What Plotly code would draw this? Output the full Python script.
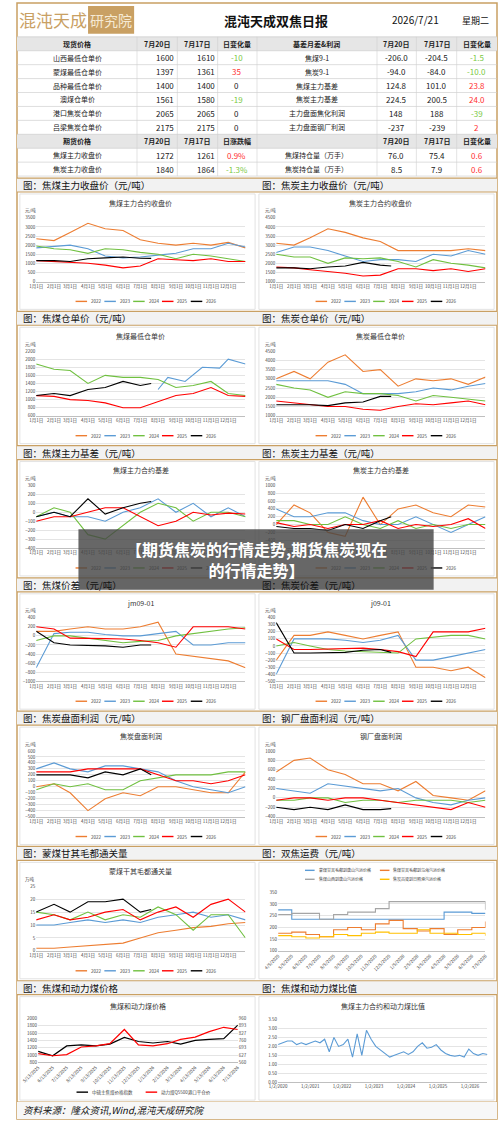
import plotly.graph_objects as go
import pandas as pd

W, H = 500, 1122
def X(p): return p / W
def Y(p): return 1 - p / H

FONT = "Noto Sans CJK SC"
GOLD = "#c9a063"
COLORS = {"2022": "#ed7d31", "2023": "#5b9bd5", "2024": "#70c040", "2025": "#ff0000", "2026": "#000000"}
YEARS = ["2022", "2023", "2024", "2025", "2026"]

# ---------------- table data ----------------
spot_names = ["山西最低仓单价", "蒙煤最低仓单价", "品种最低仓单价", "澳煤仓单价", "港口焦炭仓单价", "吕梁焦炭仓单价"]
spot_d1 = ["1600", "1397", "1400", "1561", "2065", "2175"]
spot_d2 = ["1610", "1361", "1400", "1580", "2065", "2175"]
spot_chg = ["-10", "35", "0", "-19", "0", "0"]
basis_names = ["焦煤9-1", "焦炭9-1", "焦煤主力基差", "焦炭主力基差", "主力盘面焦化利润", "主力盘面钢厂利润"]
basis_d1 = ["-206.0", "-94.0", "124.8", "224.5", "148", "-237"]
basis_d2 = ["-204.5", "-84.0", "101.0", "200.5", "188", "-239"]
basis_chg = ["-1.5", "-10.0", "23.8", "24.0", "-39", "2"]
fut_names = ["焦煤主力收盘价", "焦炭主力收盘价"]
fut_d1 = ["1272", "1840"]
fut_d2 = ["1261", "1864"]
fut_chg = ["0.9%", "-1.3%"]
oi_names = ["焦煤持仓量（万手）", "焦炭持仓量（万手）"]
oi_d1 = ["76.0", "8.5"]
oi_d2 = ["75.4", "7.9"]
oi_chg = ["0.6", "0.6"]

# ---------------- seasonal chart data ----------------
MONTH_DOY = [1, 32, 60, 91, 121, 152, 182, 213, 244, 274, 305, 335, 365]
DOY_2026 = [1, 32, 60, 91, 121, 152, 182, 201]
MONTH_LABELS = ["1月1日", "2月1日", "3月1日", "4月1日", "5月1日", "6月1日", "7月1日",
                "8月1日", "9月1日", "10月1日", "11月1日", "12月1日"]

jm_close_2022 = [2350, 2250, 2700, 3200, 2900, 2800, 2300, 2100, 2000, 2100, 2000, 2150, 1850]
jm_close_2023 = [1850, 1950, 2000, 1800, 1400, 1300, 1350, 1450, 1550, 1800, 1800, 2100, 1900]
jm_close_2024 = [1950, 1800, 1750, 1550, 1800, 1750, 1600, 1500, 1250, 1500, 1400, 1250, 1100]
jm_close_2025 = [1150, 1100, 1050, 1000, 900, 750, 850, 1250, 1200, 1150, 1250, 1100, 1100]
jm_close_2026 = [1150, 1150, 1100, 1250, 1300, 1350, 1280, 1270]

j_close_2022 = [3100, 3000, 3400, 3900, 3700, 3400, 3200, 2700, 2700, 2700, 2700, 2800, 2700]
j_close_2023 = [2600, 2900, 2900, 2700, 2400, 2100, 2200, 2200, 2100, 2500, 2400, 2700, 2500]
j_close_2024 = [2500, 2350, 2350, 2000, 2300, 2250, 2300, 2100, 1800, 2200, 2000, 1900, 1750]
j_close_2025 = [1800, 1750, 1650, 1550, 1450, 1300, 1350, 1700, 1700, 1600, 1700, 1550, 1700]
j_close_2026 = [1750, 1750, 1700, 1800, 1850, 2050, 1900, 1850]

jm_wr_2023 = [1250, 1550, 1450, 1800, 1780, 2000, 1880]
jm_wr_2023_doy = [213, 230, 260, 290, 320, 335, 365]
jm_wr_2024 = [1880, 1750, 1720, 1400, 1600, 1550, 1550, 1500, 1300, 1350, 1450, 1150, 1100]
jm_wr_2025 = [1100, 1080, 1000, 980, 920, 800, 800, 950, 1100, 1150, 1300, 1100, 1080]
jm_wr_2026 = [1100, 1150, 1100, 1250, 1300, 1450, 1350, 1400]

j_wr_2022 = [3000, 3400, 3000, 3900, 4300, 3400, 3500, 2600, 3000, 2900, 3000, 2700, 3100]
j_wr_2023 = [2900, 2900, 2900, 2900, 2700, 2200, 2200, 2200, 2300, 2500, 2400, 2600, 2750]
j_wr_2024 = [2700, 2500, 2400, 2000, 2300, 2200, 2200, 2100, 1800, 2100, 2000, 1900, 1800]
j_wr_2025 = [1800, 1700, 1600, 1500, 1500, 1350, 1300, 1500, 1650, 1600, 1700, 1800, 1600]
j_wr_2026 = [1600, 1600, 1600, 1550, 1700, 1750, 2050, 2050]

jm_basis_2023 = [-50, 0, -50, -50, -100, 0, 50, 150, 0, 100, -50, 50, -50]
jm_basis_2024 = [-50, 50, 0, -250, -300, -150, 0, 100, 50, -100, 0, 0, -50]
jm_basis_2025 = [-100, -50, -50, 0, 50, 50, -50, -150, -100, 0, -30, -10, -20]
jm_basis_2026 = [-50, 0, -50, 150, -20, 50, 100, 120]

j_basis_2022 = [0, 500, 300, -200, -300, 700, 0, 400, 500, 300, 200, 500, 450]
j_basis_2023 = [400, 200, 200, 300, 300, 100, 0, 0, 200, 0, -200, 0, 200]
j_basis_2024 = [100, 100, 0, 0, 200, 0, -100, 100, -100, 0, -100, 0, 0]
j_basis_2025 = [50, -50, 0, -100, 0, 0, 100, -100, 0, -50, 0, 150, -100]
j_basis_2026 = [-50, -100, -100, -150, 0, -100, 100, 200]

jm_spread_2022 = [100, 100, 150, 200, 150, 150, 200, 300, -400, -450, -500, -550, -700]
jm_spread_2023 = [-700, 50, 80, 80, 30, 0, 0, 50, 100, -200, -200, -150, -150]
jm_spread_2024 = [-100, 0, 0, -50, -100, -150, -120, -100, 0, 50, 100, 150, 180]
jm_spread_2025 = [200, 150, -50, -50, -60, -70, -100, -150, -250, 200, 200, 200, 150]
jm_spread_2026 = [100, -150, -200, -210, -220, -250, -200, -200]

j_spread_2022 = [-200, 150, 150, 200, 150, 100, 150, 200, -300, -300, -350, -300, -450]
j_spread_2023 = [-400, 100, 100, 100, 80, 50, 80, 150, -200, -200, -150, -100, -50]
j_spread_2024 = [0, 50, 0, -50, -70, -80, -80, -100, 100, 120, 150, 150, 100]
j_spread_2025 = [100, -50, -50, -40, -30, -30, -50, -80, -150, 200, 200, 200, 250]
j_spread_2026 = [330, -100, -100, -100, -90, -60, -50, -90]

coking_profit_2022 = [0, 50, -100, -400, -200, -100, -150, 0, 0, -50, -100, -100, 250]
coking_profit_2023 = [300, 400, 300, 250, 350, 350, 300, 250, 100, 0, -50, -100, 0]
coking_profit_2024 = [-50, 50, 0, 50, -50, -50, 100, 150, 200, 200, 200, 250, 250]
coking_profit_2025 = [250, 250, 250, 300, 300, 300, 300, 200, 100, 100, 50, 100, 200]
coking_profit_2026 = [200, 200, 200, 150, 250, 200, 300, 200]

steel_profit_2022 = [550, 800, 850, 600, 500, 300, 300, 150, 350, 50, 0, -50, 150]
steel_profit_2023 = [200, 150, 100, 300, 250, 200, 150, 200, 0, -100, -150, -50, 0]
steel_profit_2024 = [-50, -50, 0, 0, -100, -50, -50, -100, -50, -50, -50, -100, -50]
steel_profit_2025 = [-50, 0, 0, -50, 0, 0, -50, -100, -150, -200, -250, -100, -200]
steel_profit_2026 = [-200, -250, -200, -250, -150, -250, -250, -230]

gqmd_2022 = [1, 1, 1.5, 2, 2.5, 3, 5, 7, 8, 9, 9.5, 10.5, 11]
gqmd_2023 = [10, 10, 11, 12, 11, 12, 11, 13, 14, 15, 13, 14, 12]
gqmd_2024 = [15, 14, 12, 15, 12, 14, 13, 17, 14, 8, 14, 14, 5]
gqmd_2025 = [12, 14, 12, 13, 15, 16, 12, 15, 17, 13, 18, 20, 15]
gqmd_2026 = [15, 18, 15, 19, 19, 20, 15, 16]

# ---------------- freight ----------------
freight_dates = pd.date_range("2025-04-01", periods=16, freq="MS") + pd.Timedelta(days=4)
freight_labels = [f"{d.month}/5/{d.year}" for d in freight_dates]
freight_names = ["蒙煤甘其毛都到唐山汽运价格", "焦煤甘其毛都到乌海汽运价格", "焦煤山西到唐山汽运价格", "焦炭吕梁到日照港汽运价格"]
freight_blue = [275, 235, 235, 235, 235, 235, 235, 235, 235, 235, 235, 235, 265, 265, 260, 260]
freight_orange = [175, 180, 170, 160, 190, 200, 190, 215, 230, 195, 185, 195, 170, 190, 200, 225]
freight_gray = [255, 260, 260, 235, 255, 265, 265, 280, 310, 310, 310, 310, 310, 310, 310, 275]
freight_yellow = [165, 160, 155, 160, 170, 165, 175, 180, 175, 175, 190, 175, 175, 170, 175, 165]

# ---------------- coking vs thermal ----------------
ct_dates = pd.date_range("2025-05-01", periods=15, freq="MS") + pd.Timedelta(days=12)
ct_labels = [f"{d.month}/13/{d.year}" for d in ct_dates]
ct_names = ["中硫主焦煤价格指数", "动力煤Q5500港口平仓价"]
coking_idx = [1100, 980, 1250, 1280, 1250, 1300, 1480, 1370, 1330, 1370, 1300, 1400, 1430, 1450, 1820]
thermal_px = [640, 620, 630, 700, 710, 730, 860, 720, 710, 730, 770, 790, 840, 880, 860]

ratio_vals = [2.1, 2.2, 2.3, 2.3, 2.1, 2.2, 2.1, 2.2, 2.3, 2.2, 2.4, 1.7, 2.5, 2.0, 2.1, 2.4, 1.4,
              2.7, 1.5, 2.9, 2.4, 2.0, 1.8, 1.6, 1.4, 1.5, 1.6, 1.7, 1.55, 1.7, 2.0, 2.2, 1.9, 1.95,
              2.1, 1.8, 1.6, 1.5, 1.45, 1.5, 1.4, 1.85, 1.6, 1.5, 1.6, 1.55]
ratio_dates = pd.date_range("2020-01-02", "2026-07-21", periods=len(ratio_vals))
ratio_ticks = ["1/2/2020", "1/2/2021", "1/2/2022", "1/2/2023", "1/2/2024", "1/2/2025", "1/2/2026"]

fig = go.Figure()
shapes, anns = [], []

def txt(x, y, s, size=7, color="#222", bold=False, anchor="center", font=FONT, **kw):
    anns.append(dict(x=X(x), y=Y(y), xref="paper", yref="paper", text=f"<b>{s}</b>" if bold else s,
                     showarrow=False, xanchor=anchor, yanchor="middle",
                     font=dict(size=size, color=color, family=font), **kw))

def rect(x0, y0, x1, y1, fill=None, line=None, lw=1, layer="below"):
    shapes.append(dict(type="rect", xref="paper", yref="paper", x0=X(x0), x1=X(x1), y0=Y(y1), y1=Y(y0),
                       fillcolor=fill or "rgba(0,0,0,0)", line=dict(color=line or "rgba(0,0,0,0)", width=lw),
                       layer=layer))

def hline(x0, x1, y, color="#bbb", w=0.6):
    shapes.append(dict(type="line", xref="paper", yref="paper", x0=X(x0), x1=X(x1), y0=Y(y), y1=Y(y),
                       line=dict(color=color, width=w), layer="below"))

def vline(x, y0, y1, color="#bbb", w=0.6):
    shapes.append(dict(type="line", xref="paper", yref="paper", x0=X(x), x1=X(x), y0=Y(y0), y1=Y(y1),
                       line=dict(color=color, width=w), layer="below"))

def legend_items(x, y, items, swatch=12, gap=6, size=4.5):
    cx = x
    for lab, col, tw in items:
        hline(cx, cx + swatch, y, color=col, w=1.4)
        txt(cx + swatch + 2, y, lab, size=size, color="#444", anchor="left")
        cx += swatch + 2 + tw + gap

# ---- header ----
rect(0, 0, 500, 1122, line=GOLD, lw=1.5)
txt(37, 17, "混沌天成", size=17, color=GOLD)
rect(74, 3, 122, 31, fill=GOLD)
txt(98, 17, "研究院", size=14, color="#f6ead4")
txt(270, 18, "混沌天成双焦日报", size=13, color="#111", bold=True)
txt(415, 17, "2026/7/21", size=10, color="#111")
txt(478, 18, "星期二", size=9, color="#111")

# ---- table ----
row_tops = [34 + 14 * i for i in range(10)]
rect(0, 34, 500, 48, fill="#e6e6e6")
rect(0, 132, 500, 146, fill="#e6e6e6")
for t in row_tops + [174]:
    hline(0, 500, t, color="#c8c8c8")
for xv in [125, 167, 209, 250, 375, 416, 458]:
    vline(xv, 34, 174, color="#d0d0d0")
colx = [63, 146, 188, 229, 312, 395, 437, 479]
def chgcolor(s):
    if s.startswith("-"):
        return "#7ac943"
    if s in ("0",):
        return "#222"
    return "#ff3030"
hdr1 = ["现货价格", "7月20日", "7月17日", "日变化量", "基差月差&利润", "7月20日", "7月17日", "日变化量"]
hdr2 = ["期货价格", "7月20日", "7月17日", "日涨跌幅", "", "7月20日", "7月17日", "日变化量"]
for cx, s in zip(colx, hdr1):
    txt(cx, 41, s, size=7, bold=True)
for cx, s in zip(colx, hdr2):
    txt(cx, 139, s, size=7, bold=True)
def table_rows(y0, n1, a1, b1, c1, n2, a2, b2, c2):
    for i in range(len(n1)):
        yy = y0 + 14 * i
        txt(colx[0], yy, n1[i], size=7)
        txt(166, yy, a1[i], size=8, anchor="right")
        txt(208, yy, b1[i], size=8, anchor="right")
        txt(colx[3], yy, c1[i], size=8, color=chgcolor(c1[i]))
        txt(colx[4], yy, n2[i], size=7)
        txt(colx[5], yy, a2[i], size=8)
        txt(colx[6], yy, b2[i], size=8)
        txt(colx[7], yy, c2[i], size=8, color=chgcolor(c2[i]))
table_rows(55, spot_names, spot_d1, spot_d2, spot_chg, basis_names, basis_d1, basis_d2, basis_chg)
table_rows(153, fut_names, fut_d1, fut_d2, fut_chg, oi_names, oi_d1, oi_d2, oi_chg)

# ---- section bars and boxes ----
bars = [(176, 190, 310), (310, 324, 445), (445, 459, 578), (578, 592, 712), (712, 726, 848),
        (848, 862, 983), (983, 997, 1105)]
sec_titles = [("图：焦煤主力收盘价（元/吨）", "图：焦炭主力收盘价（元/吨）"),
              ("图：焦煤仓单价（元/吨）", "图：焦炭仓单价（元/吨）"),
              ("图：焦煤主力基差（元/吨）", "图：焦炭主力基差（元/吨）"),
              ("图：焦煤价差（元/吨）", "图：焦炭价差（元/吨）"),
              ("图：焦炭盘面利润（元/吨）", "图：钢厂盘面利润（元/吨）"),
              ("图：蒙煤甘其毛都通关量", "图：双焦运费（元/吨）"),
              ("图：焦煤和动力煤价格", "图：焦煤和动力煤比值")]
for (bt, bb, boxb), (t1, t2) in zip(bars, sec_titles):
    rect(0, bt, 500, bb, fill="#f2f2f2")
    hline(0, 500, bt, color=GOLD, w=1.2)
    hline(0, 500, bb, color=GOLD, w=1.2)
    txt(4, (bt + bb) / 2, t1, size=9.5, anchor="left", color="#111")
    txt(253, (bt + bb) / 2, t2, size=9.5, anchor="left", color="#111")
    rect(3, bb + 2, 248, boxb - 2, line="#dcdcdc", lw=0.8)
    rect(252, bb + 2, 497, boxb - 2, line="#dcdcdc", lw=0.8)
hline(0, 500, 1105, color=GOLD, w=1.2)
rect(0, 1105, 500, 1122, fill="#f7f7f7", layer="below")
txt(4, 1113, "<i>资料来源：隆众资讯,Wind,混沌天成研究院</i>", size=9.5, anchor="left", color="#111")

layout_extra = {}
chart_n = [0]

def axes(col, row, yrange, dtick, xrange=None, xt=None, unit="元/吨", title=None, rot=0,
         plot_top=None, plot_bot=None, left=None, right=None, yfmt=None):
    chart_n[0] += 1
    n = chart_n[0]
    bt, bb, boxb = bars[row]
    x0 = (left if left is not None else (20 if col == 0 else 270))
    x1 = (right if right is not None else (238 if col == 0 else 488))
    pt = plot_top if plot_top is not None else bb + 26
    pb = plot_bot if plot_bot is not None else boxb - 30
    xa, ya = f"xaxis{n}", f"yaxis{n}"
    layout_extra[xa] = dict(domain=[X(x0), X(x1)], anchor=f"y{n}", range=xrange, showgrid=False,
                            showline=True, linecolor="#bfbfbf", linewidth=0.8, ticks="",
                            tickfont=dict(size=4.5, color="#444", family=FONT), tickangle=rot)
    if xt is not None:
        layout_extra[xa].update(tickmode="array", tickvals=xt[0], ticktext=xt[1])
    layout_extra[ya] = dict(domain=[Y(pb), Y(pt)], anchor=f"x{n}", range=yrange, dtick=dtick,
                            showgrid=True, gridcolor="#e4e4e4", gridwidth=0.6, zeroline=False,
                            tickfont=dict(size=4.5, color="#444", family=FONT), showline=False)
    if yfmt:
        layout_extra[ya]["tickformat"] = yfmt
    if title:
        txt((x0 + x1) / 2, bb + 11, title, size=7, color="#333")
    if unit:
        txt(x0 - 14, pt - 7, unit, size=4.5, color="#444", anchor="left")
    return n, x0, x1, boxb

def seasonal(col, row, title, data, yrange, dtick, extra_x=None, unit="元/吨"):
    n, x0, x1, boxb = axes(col, row, yrange, dtick, xrange=[1, 365], xt=(MONTH_DOY[:12], MONTH_LABELS),
                           title=title, unit=unit)
    for yr, vals in zip(YEARS, data):
        if extra_x and yr in extra_x:
            xs = extra_x[yr]
        elif yr == "2026":
            xs = DOY_2026
        else:
            xs = MONTH_DOY
        fig.add_trace(go.Scatter(x=xs[:len(vals)], y=vals, mode="lines", name=yr,
                                 line=dict(color=COLORS[yr], width=1.1), xaxis=f"x{n}", yaxis=f"y{n}"))
    cx = (x0 + x1) / 2
    legend_items(cx - 68, boxb - 10, [(yr, COLORS[yr], 12) for yr in YEARS], swatch=12, gap=4)

seasonal(0, 0, "焦煤主力合约收盘价", [jm_close_2022, jm_close_2023, jm_close_2024, jm_close_2025, jm_close_2026], [0, 3500], 500)
seasonal(1, 0, "焦炭主力合约收盘价", [j_close_2022, j_close_2023, j_close_2024, j_close_2025, j_close_2026], [1000, 4500], 500)
seasonal(0, 1, "焦煤最低仓单价", [[], jm_wr_2023, jm_wr_2024, jm_wr_2025, jm_wr_2026], [600, 2200], 200,
         extra_x={"2023": jm_wr_2023_doy})
seasonal(1, 1, "焦炭最低仓单价", [j_wr_2022, j_wr_2023, j_wr_2024, j_wr_2025, j_wr_2026], [1000, 4500], 500)
seasonal(0, 2, "焦煤主力合约基差", [[], jm_basis_2023, jm_basis_2024, jm_basis_2025, jm_basis_2026], [-400, 300], 100)
seasonal(1, 2, "焦炭主力合约基差", [j_basis_2022, j_basis_2023, j_basis_2024, j_basis_2025, j_basis_2026], [-600, 1000], 200)
seasonal(0, 3, "jm09-01", [jm_spread_2022, jm_spread_2023, jm_spread_2024, jm_spread_2025, jm_spread_2026], [-1000, 400], 200)
seasonal(1, 3, "j09-01", [j_spread_2022, j_spread_2023, j_spread_2024, j_spread_2025, j_spread_2026], [-500, 400], 100)
seasonal(0, 4, "焦炭盘面利润", [coking_profit_2022, coking_profit_2023, coking_profit_2024, coking_profit_2025, coking_profit_2026], [-500, 600], 100)
seasonal(1, 4, "钢厂盘面利润", [steel_profit_2022, steel_profit_2023, steel_profit_2024, steel_profit_2025, steel_profit_2026], [-400, 1000], 200)
seasonal(0, 5, "蒙煤干其毛都通关量", [gqmd_2022, gqmd_2023, gqmd_2024, gqmd_2025, gqmd_2026], [0, 25], 5, unit="万吨")

# freight
bt, bb, boxb = bars[5]
n, x0, x1, _ = axes(1, 5, [100, 350], 50, xt=(list(freight_dates), freight_labels), unit=None, rot=-45,
                    plot_top=bb + 32, plot_bot=boxb - 30, left=272)
fcol = ["#5b9bd5", "#ed7d31", "#a5a5a5", "#ffc000"]
for nm, vals, c in zip(freight_names, [freight_blue, freight_orange, freight_gray, freight_yellow], fcol):
    fig.add_trace(go.Scatter(x=list(freight_dates), y=vals, mode="lines", name=nm, line=dict(color=c, width=1.1, shape="hv"),
                             xaxis=f"x{n}", yaxis=f"y{n}"))
legend_items(300, bb + 10, [(freight_names[0], fcol[0], 60), (freight_names[1], fcol[1], 60)], swatch=10, gap=6, size=4)
legend_items(300, bb + 19, [(freight_names[2], fcol[2], 60), (freight_names[3], fcol[3], 60)], swatch=10, gap=6, size=4)

# coking vs thermal
bt, bb, boxb = bars[6]
n, x0, x1, _ = axes(0, 6, [800, 2000], 200, xt=(list(ct_dates), ct_labels), unit=None, rot=-45,
                    title="焦煤和动力煤价格", plot_top=bb + 24, plot_bot=boxb - 40, left=22, right=230)
layout_extra["yaxis99"] = dict(overlaying=f"y{n}", side="right", anchor=f"x{n}", range=[560, 960],
                               tickvals=[560, 627, 693, 760, 827, 893, 960], showgrid=False,
                               tickfont=dict(size=4.5, color="#444", family=FONT))
fig.add_trace(go.Scatter(x=list(ct_dates), y=coking_idx, mode="lines", name=ct_names[0], line=dict(color="#000", width=1.2),
                         xaxis=f"x{n}", yaxis=f"y{n}"))
fig.add_trace(go.Scatter(x=list(ct_dates), y=thermal_px, mode="lines", name=ct_names[1], line=dict(color="#ff0000", width=1.2),
                         xaxis=f"x{n}", yaxis="y99"))
legend_items(62, boxb - 10, [(ct_names[0], "#000", 50), (ct_names[1], "#ff0000", 60)], swatch=12, gap=8)

# ratio
n, x0, x1, _ = axes(1, 6, [0, 3.5], 0.5, xt=(list(pd.to_datetime(["2020-01-02", "2021-01-02", "2022-01-02", "2023-01-02", "2024-01-02", "2025-01-02", "2026-01-02"])), ratio_ticks),
                    unit=None, title="焦煤主力合约和动力煤比值", plot_top=bb + 25, plot_bot=boxb - 20, left=272, right=490, yfmt=".2f")
fig.add_trace(go.Scatter(x=list(ratio_dates), y=ratio_vals, mode="lines", name="比值", line=dict(color="#5b9bd5", width=1.1),
                         xaxis=f"x{n}", yaxis=f"y{n}"))

# banner overlay
rect(64, 529, 434, 590, fill="rgba(70,70,70,0.82)", layer="above")
anns.append(dict(x=X(249), y=Y(559), xref="paper", yref="paper", showarrow=False,
                 text="<b>【期货焦炭的行情走势,期货焦炭现在<br>的行情走势】</b>",
                 font=dict(size=16, color="white", family=FONT), align="center"))

fig.update_layout(width=W, height=H, margin=dict(l=0, r=0, t=0, b=0), paper_bgcolor="white",
                  plot_bgcolor="white", shapes=shapes, annotations=anns, showlegend=False,
                  font=dict(family=FONT), **layout_extra)
fig.write_html("out.html", config={"displayModeBar": False},
               post_script="document.body.style.margin='0';document.body.style.overflow='hidden';")
